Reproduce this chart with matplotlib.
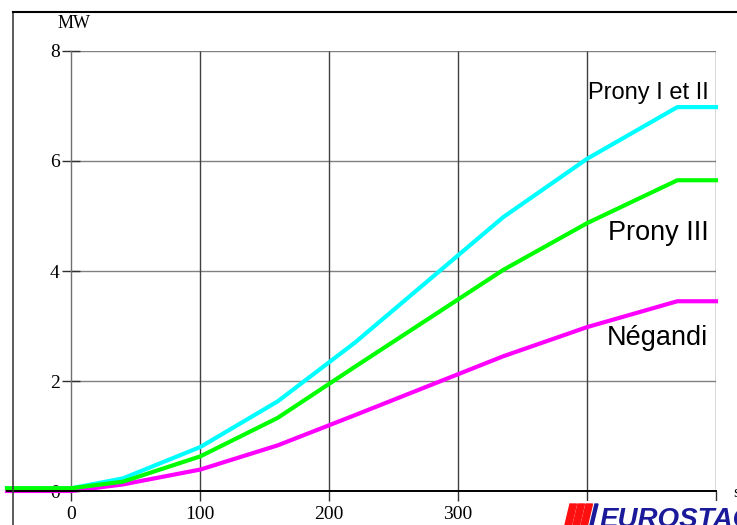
import matplotlib
matplotlib.use("Agg")
import matplotlib.pyplot as plt
from matplotlib.patches import Polygon, Rectangle
from matplotlib.lines import Line2D

# ---- data ----
time_s = [-50, 0, 40, 100, 160, 220, 335, 400, 470, 500]
prony_1_2 = [0.05, 0.05, 0.23, 0.80, 1.63, 2.70, 4.98, 6.04, 6.98, 6.98]
prony_3 = [0.05, 0.05, 0.17, 0.63, 1.33, 2.26, 4.02, 4.87, 5.65, 5.65]
negandi = [0.0, 0.0, 0.12, 0.39, 0.83, 1.38, 2.45, 2.98, 3.45, 3.45]

x_ticks = [0, 100, 200, 300, 400, 500]
y_ticks = [0, 2, 4, 6, 8]
series_labels = ["Prony I et II", "Prony III", "Négandi"]

W, H = 737, 525
fig = plt.figure(figsize=(W / 100, H / 100), dpi=100)

# axes placement (pixels)
left_px, right_px, top_px, bottom_px = 7, 716, 51, 491
ax = fig.add_axes([left_px / W, (H - bottom_px) / H,
                   (right_px - left_px) / W, (bottom_px - top_px) / H])
ax.set_xlim(-50, 500)
ax.set_ylim(0, 8)
ax.patch.set_alpha(0)

for s in ["top", "right"]:
    ax.spines[s].set_visible(False)
ax.spines["left"].set_position(("data", 0))
ax.spines["left"].set_color("#707070")
ax.spines["left"].set_linewidth(1.0)
ax.spines["bottom"].set_color("black")
ax.spines["bottom"].set_linewidth(1.4)
ax.spines["bottom"].set_zorder(5)

serif = ["Liberation Serif", "DejaVu Serif"]
ax.set_xticks(x_ticks)
ax.set_xticklabels([str(v) for v in x_ticks], family=serif, fontsize=14)
ax.set_yticks(y_ticks)
ax.set_yticklabels([str(v) for v in y_ticks], family=serif, fontsize=14)
ax.tick_params(axis="x", direction="out", length=7, width=1, color="#303030", pad=4)
ax.tick_params(axis="y", direction="inout", length=13, width=1, color="#303030", pad=2)

# grid lines (only within 0..500, 0..8)
ax.hlines(y_ticks[1:], 0, 500, color="#808080", lw=1.0, zorder=1)
ax.vlines(x_ticks[1:], 0, 8, color="#404040", lw=1.0, zorder=1)

# curves
ax.plot(time_s, prony_1_2, color="#00FFFF", lw=3.0, zorder=3, clip_on=False)
ax.plot(time_s, negandi, color="#FF00FF", lw=3.0, zorder=3, clip_on=False)
ax.plot(time_s, prony_3, color="#00FF00", lw=3.0, zorder=3, clip_on=False)

sans = ["Liberation Sans", "DejaVu Sans"]
ax.text(494, 7.13, series_labels[0], ha="right", va="baseline", family=sans, fontsize=17)
ax.text(494, 4.56, series_labels[1], ha="right", va="baseline", family=sans, fontsize=19.5)
ax.text(494, 2.65, series_labels[2], ha="right", va="baseline", family=sans, fontsize=19.5)

# unit labels
fig.text(74 / W, 1 - 24 / H, "MW", ha="center", va="center", family=serif, fontsize=13)
fig.text(733 / W, 1 - 493 / H, "s", ha="left", va="center", family=serif, fontsize=12)

# outer frame lines
fig.add_artist(Line2D([13 / W, 13 / W], [1 - 12 / H, 0], transform=fig.transFigure,
                      color="#404040", lw=1.2))
fig.add_artist(Line2D([13 / W, 1], [1 - 12 / H, 1 - 12 / H], transform=fig.transFigure,
                      color="black", lw=1.5))

# EUROSTAG logo (on white background)
def px(x, y):
    return (x / W, 1 - y / H)

fig.add_artist(Rectangle(px(556, 525), 181 / W, 24 / H, transform=fig.transFigure,
                         facecolor="white", edgecolor="none", zorder=10))
for x0 in (565, 573, 581):
    poly = Polygon([px(x0, 525), px(x0 + 6.5, 525), px(x0 + 11.5, 504), px(x0 + 5, 504)],
                   closed=True, transform=fig.transFigure, color="#FF1010", zorder=11)
    fig.add_artist(poly)
poly = Polygon([px(590, 525), px(593, 525), px(598, 504), px(595, 504)],
               closed=True, transform=fig.transFigure, color="#1A1A9A", zorder=11)
fig.add_artist(poly)
fig.text(600 / W, 1 - 527 / H, "EUROSTAG", ha="left", va="baseline", family=sans,
         fontsize=20, style="italic", weight="bold", color="#1A1A9A", zorder=12)

fig.savefig("out.png", dpi=100)
